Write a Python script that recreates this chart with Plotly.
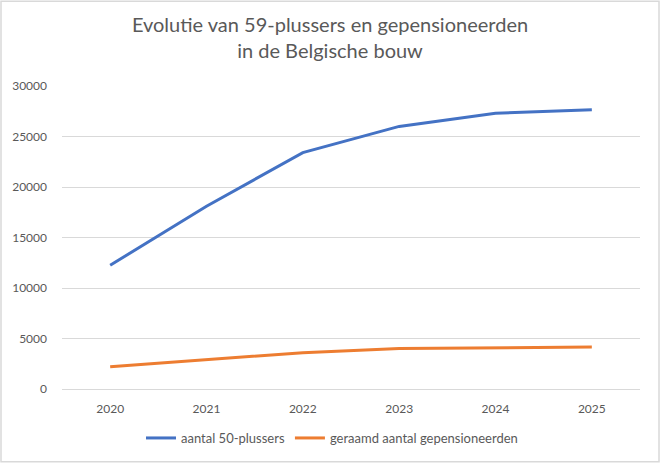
import plotly.graph_objects as go

years = ["2020", "2021", "2022", "2023", "2024", "2025"]
plussers_50 = [12250, 18100, 23400, 26000, 27300, 27650]
gepensioneerden = [2200, 2900, 3600, 4000, 4050, 4150]
y_ticks = [0, 5000, 10000, 15000, 20000, 25000, 30000]

W, H = 660, 464
ml, mr, mt, mb = 62, 20, 86, 74
pw, ph = W - ml - mr, H - mt - mb

fig = go.Figure()
fig.add_trace(go.Scatter(x=years, y=plussers_50, mode="lines", name="aantal 50-plussers",
                         line=dict(color="#4472C4", width=3)))
fig.add_trace(go.Scatter(x=years, y=gepensioneerden, mode="lines", name="geraamd aantal gepensioneerden",
                         line=dict(color="#ED7D31", width=3)))

font = "Lato, 'Open Sans', sans-serif"
fig.update_layout(
    width=W, height=H,
    margin=dict(l=ml, r=mr, t=mt, b=mb),
    paper_bgcolor="white", plot_bgcolor="white",
    font=dict(family=font, color="#595959", size=12),
    title=dict(text="Evolutie van 59-plussers en gepensioneerden<br>in de Belgische bouw",
               x=0.5, xanchor="center", y=1 - 32 / H, yanchor="middle",
               font=dict(size=20, color="#595959", family=font)),
    showlegend=True,
    legend=dict(orientation="h", x=(332 - ml) / pw, xanchor="center", y=-(438 - 390) / ph, yanchor="middle",
                font=dict(size=13, color="#595959"), itemwidth=30, bgcolor="rgba(0,0,0,0)"),
    xaxis=dict(type="category", range=[-0.5, 5.5], showgrid=False, showline=True,
               linecolor="#D9D9D9", linewidth=1, ticks="", ticklabelstandoff=9,
               tickfont=dict(size=12, color="#595959")),
    yaxis=dict(range=[0, 30000], tickvals=y_ticks, ticktext=[str(v) for v in y_ticks],
               showgrid=True, gridcolor="#D9D9D9", gridwidth=1, zeroline=False,
               showline=False, ticks="", ticklabelstandoff=14,
               tickfont=dict(size=12, color="#595959")),
)

fig.add_shape(type="rect", xref="paper", yref="paper",
              x0=-(ml - 1) / pw, x1=1 + (mr - 1) / pw,
              y0=-(mb - 1) / ph, y1=1 + (mt - 1) / ph,
              line=dict(color="#D9D9D9", width=1.5), fillcolor="rgba(0,0,0,0)", layer="below")

fig.write_html("out.html")
